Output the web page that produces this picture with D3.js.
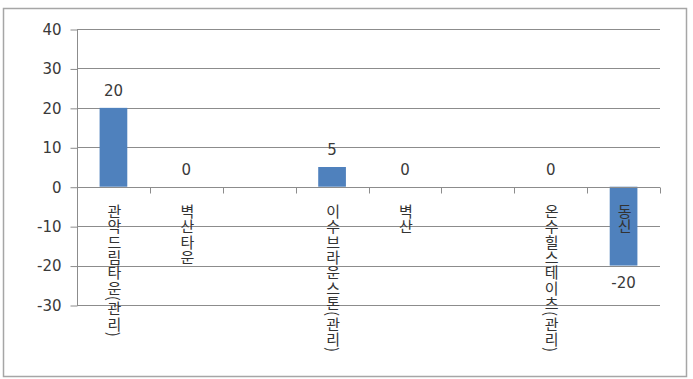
<!DOCTYPE html>
<html>
<head>
<meta charset="utf-8">
<script src="https://cdn.jsdelivr.net/npm/d3@7"></script>
<style>
  body { margin: 0; background: #fff; }
  svg { display: block; }
</style>
</head>
<body>
<div id="chart"></div>
<script>
// Chart data
var categories = ["관악드림타운(관리)", "벽산타운", "", "이수브라운스톤(관리)", "벽산", "", "온수힐스테이츠(관리)", "동신"];
var values = [20, 0, null, 5, 0, null, 0, -20];
var yTicks = [-30, -20, -10, 0, 10, 20, 30, 40];

var svgWidth = 693;
var svgHeight = 379;

// plot area in page pixels
var plot = { left: 77, right: 660, top: 29, bottom: 305 };

var svg = d3.select("#chart")
  .append("svg")
  .attr("width", svgWidth)
  .attr("height", svgHeight);

// outer frame
svg.append("rect")
  .attr("x", 3.5)
  .attr("y", 8.5)
  .attr("width", 683)
  .attr("height", 368)
  .attr("fill", "#fff")
  .attr("stroke", "#a6a6a6")
  .attr("stroke-width", 1.5);

var xScale = d3.scaleBand()
  .domain(d3.range(categories.length))
  .range([plot.left, plot.right])
  .paddingInner(0.62)
  .paddingOuter(0.31);

var xBoundary = d3.scaleLinear()
  .domain([0, categories.length])
  .range([plot.left, plot.right]);

var yScale = d3.scaleLinear()
  .domain([-30, 40])
  .range([plot.bottom, plot.top]);

// gridlines
svg.append("g")
  .selectAll("line")
  .data(yTicks)
  .enter()
  .append("line")
  .attr("x1", plot.left)
  .attr("x2", plot.right)
  .attr("y1", d => Math.round(yScale(d)) + 0.5)
  .attr("y2", d => Math.round(yScale(d)) + 0.5)
  .attr("stroke", "#8c8c8c")
  .attr("stroke-width", 1.2);

// y axis
var leftAxis = d3.axisLeft(yScale)
  .tickValues(yTicks)
  .tickFormat(d => String(d))
  .tickSize(7)
  .tickPadding(9);

var yAxis = svg.append("g")
  .attr("transform", `translate(${plot.left + 0.5}, 0.5)`)
  .call(leftAxis);
yAxis.select(".domain").attr("stroke", "#8c8c8c").attr("d", `M0,${plot.top}V${plot.bottom}`);
yAxis.selectAll(".tick line").attr("stroke", "#8c8c8c");
yAxis.selectAll(".tick text")
  .attr("font-family", "DejaVu Sans")
  .attr("font-size", 15)
  .attr("fill", "#3a3a3a");

// bars
var barData = values.map((v, i) => ({ i: i, v: v })).filter(d => d.v !== null);
svg.append("g")
  .selectAll("rect")
  .data(barData)
  .enter()
  .append("rect")
  .attr("x", d => xScale(d.i))
  .attr("y", d => yScale(Math.max(d.v, 0)))
  .attr("width", xScale.bandwidth())
  .attr("height", d => Math.abs(yScale(d.v) - yScale(0)))
  .attr("fill", "#4f81bd");

// x axis line and ticks
var y0 = Math.round(yScale(0)) + 0.5;
svg.append("line")
  .attr("x1", plot.left)
  .attr("x2", plot.right)
  .attr("y1", y0)
  .attr("y2", y0)
  .attr("stroke", "#8c8c8c")
  .attr("stroke-width", 1.2);

svg.append("g")
  .selectAll("line")
  .data(d3.range(1, categories.length + 1))
  .enter()
  .append("line")
  .attr("x1", d => Math.round(xBoundary(d)) + 0.5)
  .attr("x2", d => Math.round(xBoundary(d)) + 0.5)
  .attr("y1", y0)
  .attr("y2", y0 + 6)
  .attr("stroke", "#8c8c8c");

// value labels
svg.append("g")
  .selectAll("text")
  .data(barData)
  .enter()
  .append("text")
  .text(d => d.v)
  .attr("x", d => xScale(d.i) + xScale.bandwidth() / 2)
  .attr("y", d => d.v < 0 ? yScale(d.v) + 22 : yScale(d.v) - 12)
  .attr("text-anchor", "middle")
  .attr("font-family", "DejaVu Sans")
  .attr("font-size", 15)
  .attr("fill", "#3a3a3a");

// category labels, stacked vertically
svg.append("g")
  .selectAll("text")
  .data(categories)
  .enter()
  .append("text")
  .text(d => d)
  .attr("x", (d, i) => xScale(i) + xScale.bandwidth() / 2 + 1)
  .attr("y", 204)
  .style("writing-mode", "vertical-rl")
  .style("letter-spacing", "0.3px")
  .attr("font-family", "Noto Sans CJK KR")
  .attr("font-size", 15)
  .attr("fill", "#333");
</script>
</body>
</html>
